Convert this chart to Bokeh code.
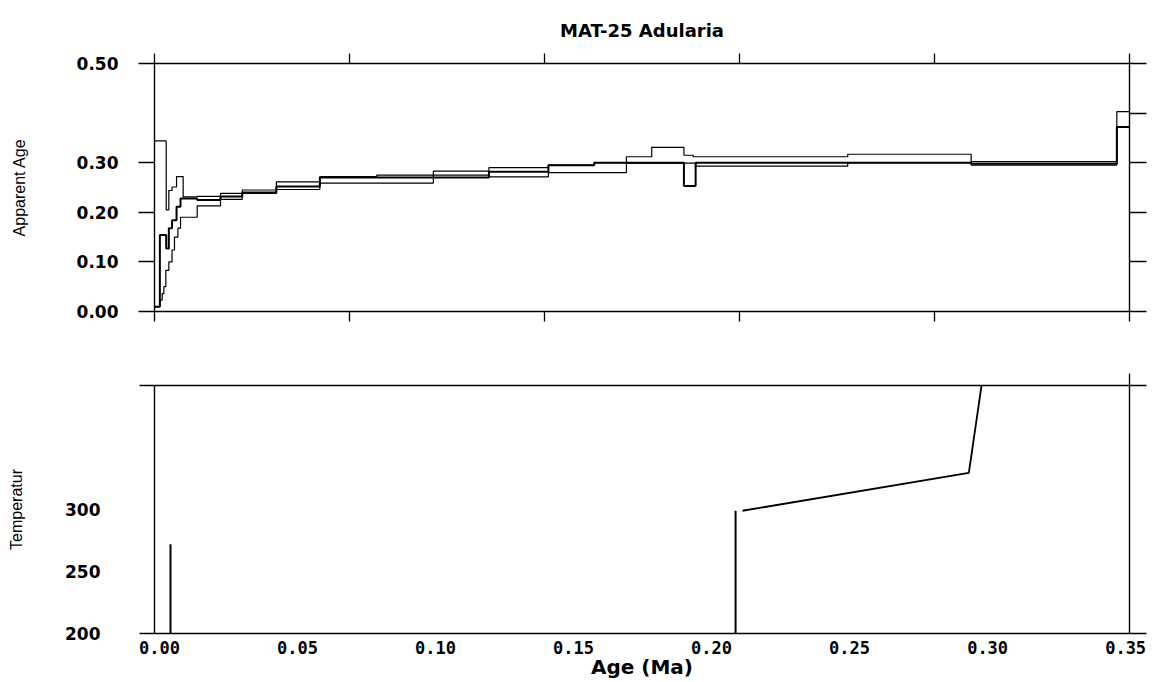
from bokeh.plotting import figure
from bokeh.models import LinearAxis, FixedTicker, Range1d, NumeralTickFormatter
from bokeh.layouts import column
from bokeh.embed import file_html
from bokeh.resources import INLINE

# ---------------- data: age spectra (cumulative 39Ar fraction vs apparent age, Ma) -------------
upper_edges = [0, 0.012, 0.0147, 0.018, 0.0226, 0.0294, 0.0438, 0.0677, 0.090, 0.125, 0.1696,
               0.228, 0.343, 0.404, 0.451, 0.484, 0.510, 0.543, 0.5525, 0.711, 0.8376, 0.987, 1.0]
upper_ages = [0.344, 0.205, 0.244, 0.251, 0.272, 0.231, 0.232, 0.238, 0.245, 0.2615,
              0.272, 0.275, 0.290, 0.295, 0.300, 0.312, 0.331, 0.315, 0.312, 0.317, 0.302, 0.403]

model_edges = [0, 0.0055, 0.012, 0.0147, 0.018, 0.0226, 0.0267, 0.0438, 0.0677, 0.090, 0.125,
               0.1696, 0.343, 0.404, 0.451, 0.543, 0.555, 0.711, 0.8376, 0.987, 1.0]
model_ages = [0.0097, 0.154, 0.127, 0.168, 0.184, 0.211, 0.228, 0.225, 0.232, 0.240,
              0.252, 0.270, 0.282, 0.295, 0.300, 0.253, 0.300, 0.300, 0.298, 0.372]

lower_edges = [0, 0.0055, 0.0079, 0.0096, 0.0116, 0.0147, 0.018, 0.0205, 0.024, 0.0267, 0.0438,
               0.0677, 0.090, 0.125, 0.1696, 0.286, 0.343, 0.404, 0.484, 0.555, 0.711, 0.8376,
               0.987, 1.0]
lower_ages = [0.0097, 0.023, 0.036, 0.050, 0.083, 0.100, 0.124, 0.150, 0.168, 0.190,
              0.213, 0.226, 0.238, 0.246, 0.259, 0.283, 0.2716, 0.280, 0.299, 0.293, 0.300,
              0.295, 0.372]

age_ticks = [0.0, 0.1, 0.2, 0.3, 0.5]
frac_ticks = [0.0, 0.2, 0.4, 0.6, 0.8, 1.0]

# ---------------- data: thermal history (age Ma vs temperature) ----------------
hold_age = [0.004, 0.004]
hold_temp = [200, 272]
jump_age = [0.2087, 0.2087]
jump_temp = [200, 299]
path_age = [0.2112, 0.2932, 0.2978]
path_temp = [299, 329.5, 400]
time_ticks = [0.0, 0.05, 0.10, 0.15, 0.20, 0.25, 0.30, 0.35]
temp_ticks = [200, 250, 300]

LABEL_FONT = "DejaVu Sans"
NARROW = "Liberation Sans Narrow, Liberation Sans, Arial, sans-serif"


def blank_axis(ax, ticks, out):
    ax.ticker = FixedTicker(ticks=ticks)
    ax.major_tick_out = out
    ax.major_tick_in = 0
    ax.minor_tick_out = 0
    ax.minor_tick_in = 0
    ax.axis_line_color = None
    ax.major_tick_line_color = "black"
    ax.major_tick_line_width = 1.3
    ax.major_label_text_font_size = "0px"
    ax.major_label_text_color = None
    ax.major_label_standoff = 0


# ---------------- top panel ----------------
p1 = figure(frame_width=975, frame_height=248, x_range=Range1d(0, 1), y_range=Range1d(0, 0.5),
            x_axis_location=None, y_axis_location=None,
            min_border_left=154, min_border_right=20, min_border_top=63, min_border_bottom=20,
            output_backend="svg", toolbar_location=None)
p1.grid.visible = False
p1.outline_line_color = "black"
p1.outline_line_width = 1.4
p1.background_fill_color = "white"
p1.border_fill_color = "white"

p1.title.text = "MAT-25 Adularia"
p1.title.align = "center"
p1.title.text_font = LABEL_FONT
p1.title.text_font_style = "bold"
p1.title.text_font_size = "18px"
p1.title.text_color = "black"
p1.title.standoff = 25

yl = LinearAxis(ticker=FixedTicker(ticks=age_ticks), formatter=NumeralTickFormatter(format="0.00"))
yl.major_tick_out = 16
yl.major_tick_in = 0
yl.minor_tick_out = 0
yl.minor_tick_in = 0
yl.axis_line_color = None
yl.major_tick_line_color = "black"
yl.major_tick_line_width = 1.3
yl.major_label_standoff = 20
yl.major_label_text_font = LABEL_FONT
yl.major_label_text_font_style = "bold"
yl.major_label_text_font_size = "17px"
yl.major_label_text_color = "black"
yl.axis_label = "Apparent Age"
yl.axis_label_text_font = NARROW
yl.axis_label_text_font_style = "normal"
yl.axis_label_text_font_size = "16px"
yl.axis_label_text_color = "black"
yl.axis_label_standoff = 46
p1.add_layout(yl, "left")

xb = LinearAxis()
blank_axis(xb, frac_ticks, 10)
p1.add_layout(xb, "below")
xa = LinearAxis()
blank_axis(xa, frac_ticks, 10)
p1.add_layout(xa, "above")
yr = LinearAxis()
blank_axis(yr, [0.0, 0.1, 0.2, 0.3, 0.4, 0.5], 17)
p1.add_layout(yr, "right")

p1.step(upper_edges, upper_ages + [upper_ages[-1]], mode="after", line_color="black", line_width=1.2)
p1.step(lower_edges, lower_ages + [lower_ages[-1]], mode="after", line_color="black", line_width=1.2)
p1.step(model_edges, model_ages + [model_ages[-1]], mode="after", line_color="black", line_width=2.0)

# ---------------- bottom panel ----------------
p2 = figure(frame_width=975, frame_height=248, x_range=Range1d(-0.0018, 0.3514),
            y_range=Range1d(200, 400), x_axis_location=None, y_axis_location=None,
            min_border_left=154, min_border_right=20, min_border_top=54, min_border_bottom=48,
            output_backend="svg", toolbar_location=None)
p2.grid.visible = False
p2.outline_line_color = "black"
p2.outline_line_width = 1.4
p2.background_fill_color = "white"
p2.border_fill_color = "white"

ytk = LinearAxis()
blank_axis(ytk, [200, 400], 15)
p2.add_layout(ytk, "left")

ylab = LinearAxis(ticker=FixedTicker(ticks=temp_ticks))
ylab.major_tick_out = 0
ylab.major_tick_in = 0
ylab.minor_tick_out = 0
ylab.minor_tick_in = 0
ylab.axis_line_color = None
ylab.major_label_standoff = 39
ylab.major_label_text_font = LABEL_FONT
ylab.major_label_text_font_style = "bold"
ylab.major_label_text_font_size = "17px"
ylab.major_label_text_color = "black"
ylab.axis_label = "Temperatur"
ylab.axis_label_text_font = NARROW
ylab.axis_label_text_font_style = "normal"
ylab.axis_label_text_font_size = "16px"
ylab.axis_label_text_color = "black"
ylab.axis_label_standoff = 37
p2.add_layout(ylab, "left")

xlab = LinearAxis(ticker=FixedTicker(ticks=time_ticks), formatter=NumeralTickFormatter(format="0.00"))
xlab.major_tick_out = 0
xlab.major_tick_in = 0
xlab.minor_tick_out = 0
xlab.minor_tick_in = 0
xlab.axis_line_color = None
xlab.major_label_standoff = 7
xlab.major_label_text_font = "DejaVu Sans Mono"
xlab.major_label_text_font_style = "bold"
xlab.major_label_text_font_size = "17px"
xlab.major_label_text_color = "black"
xlab.axis_label = "Age (Ma)"
xlab.axis_label_text_font = LABEL_FONT
xlab.axis_label_text_font_style = "bold"
xlab.axis_label_text_font_size = "20px"
xlab.axis_label_text_color = "black"
xlab.axis_label_standoff = -2
p2.add_layout(xlab, "below")

yr2 = LinearAxis()
blank_axis(yr2, [200, 400], 17)
p2.add_layout(yr2, "right")
xa2 = LinearAxis()
blank_axis(xa2, [0.3513], 12)
p2.add_layout(xa2, "above")

p2.line(hold_age, hold_temp, line_color="black", line_width=2)
p2.line(jump_age, jump_temp, line_color="black", line_width=2)
p2.line(path_age, path_temp, line_color="black", line_width=1.8)

layout = column(p1, p2)
open("out.html", "w").write(file_html(layout, INLINE))
